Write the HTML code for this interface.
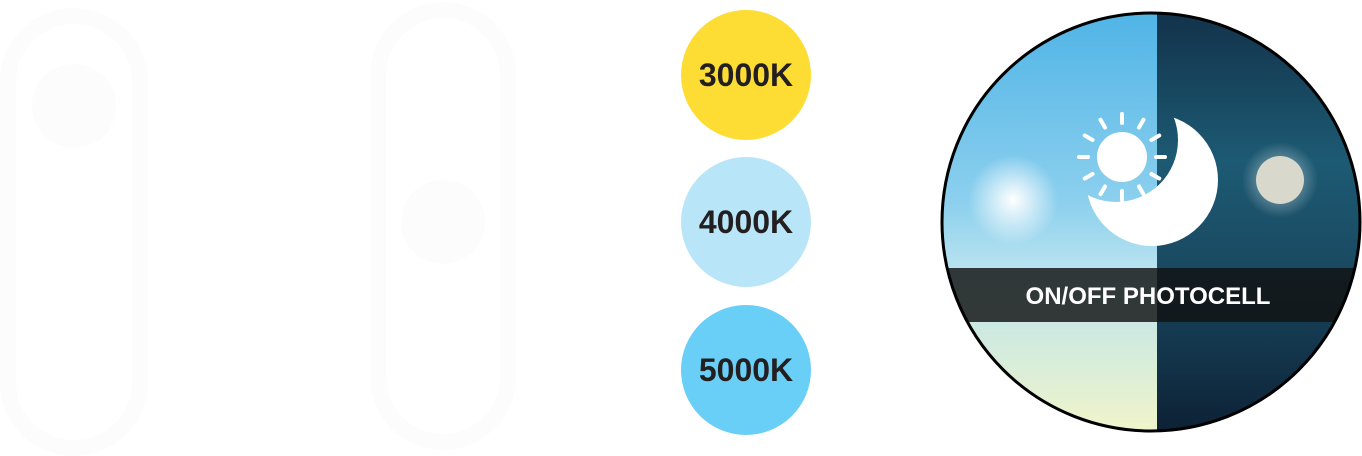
<!DOCTYPE html>
<html><head><style>
body{margin:0;width:1362px;height:456px;background:#fff;position:relative;overflow:hidden;font-family:"Liberation Sans",sans-serif}
.c{position:absolute;width:130px;height:130px;border-radius:50%;left:681px;display:flex;align-items:center;justify-content:center;font-weight:bold;font-size:32px;color:#231f20}
</style></head><body>
<svg width="660" height="456" style="position:absolute;left:0;top:0">
<g fill="none" stroke="#fcfcfc" stroke-width="16">
<rect x="8" y="16" width="132" height="432" rx="66"/>
<rect x="378" y="10" width="130" height="432" rx="65"/>
</g>
<circle cx="74" cy="106" r="42" fill="#fcfcfc"/>
<circle cx="443" cy="222" r="42" fill="#fcfcfc"/>
</svg>
<div class="c" style="top:10px;background:#fddc34">3000K</div>
<div class="c" style="top:157px;background:#b9e5f8">4000K</div>
<div class="c" style="top:305px;background:#69cff6">5000K</div>
<svg width="1362" height="456" style="position:absolute;left:0;top:0">
<defs>
<clipPath id="cc"><circle cx="1151" cy="222" r="209"/></clipPath>
<linearGradient id="day" x1="0" y1="0" x2="0" y2="1">
<stop offset="0" stop-color="#4fb4e6"/><stop offset="0.45" stop-color="#8dd0ee"/><stop offset="0.6" stop-color="#b8e3ef"/><stop offset="1" stop-color="#f3f5c8"/></linearGradient>
<linearGradient id="night" x1="0" y1="0" x2="0" y2="1">
<stop offset="0" stop-color="#12324a"/><stop offset="0.35" stop-color="#1d5a73"/><stop offset="0.6" stop-color="#1a4a62"/><stop offset="1" stop-color="#0c1f33"/></linearGradient>
<radialGradient id="glow"><stop offset="0" stop-color="#fff" stop-opacity="1"/><stop offset="1" stop-color="#fff" stop-opacity="0"/></radialGradient>
<mask id="moon"><rect x="1000" y="80" width="300" height="200" fill="#fff"/><circle cx="1116" cy="140" r="62" fill="#000"/></mask>
</defs>
<g clip-path="url(#cc)">
<rect x="940" y="10" width="217" height="430" fill="url(#day)"/>
<rect x="1157" y="10" width="210" height="430" fill="url(#night)"/>
<circle cx="1013" cy="200" r="45" fill="url(#glow)"/>
<circle cx="1280" cy="180" r="38" fill="url(#glow)" opacity="0.6"/>
<circle cx="1280" cy="180" r="24" fill="#d8d8cc"/>
<rect x="940" y="268" width="430" height="54" fill="#111" opacity="0.82"/>
</g>
<circle cx="1151" cy="222" r="209" fill="none" stroke="#000" stroke-width="3"/>
<circle cx="1152" cy="180" r="66" fill="#fff" mask="url(#moon)"/>
<circle cx="1122" cy="157" r="25" fill="#fff"/>
<g stroke="#fff" stroke-width="4" stroke-linecap="round" transform="translate(1122 157)">
<g id="r"><line x1="0" y1="-34" x2="0" y2="-43"/></g>
<use href="#r" transform="rotate(30)"/><use href="#r" transform="rotate(60)"/><use href="#r" transform="rotate(90)"/>
<use href="#r" transform="rotate(120)"/><use href="#r" transform="rotate(150)"/><use href="#r" transform="rotate(180)"/>
<use href="#r" transform="rotate(210)"/><use href="#r" transform="rotate(240)"/><use href="#r" transform="rotate(270)"/>
<use href="#r" transform="rotate(300)"/><use href="#r" transform="rotate(330)"/>
</g>
<text x="1148" y="304" text-anchor="middle" font-family="Liberation Sans" font-size="24" font-weight="bold" fill="#fff">ON/OFF PHOTOCELL</text>
</svg>
</body></html>
